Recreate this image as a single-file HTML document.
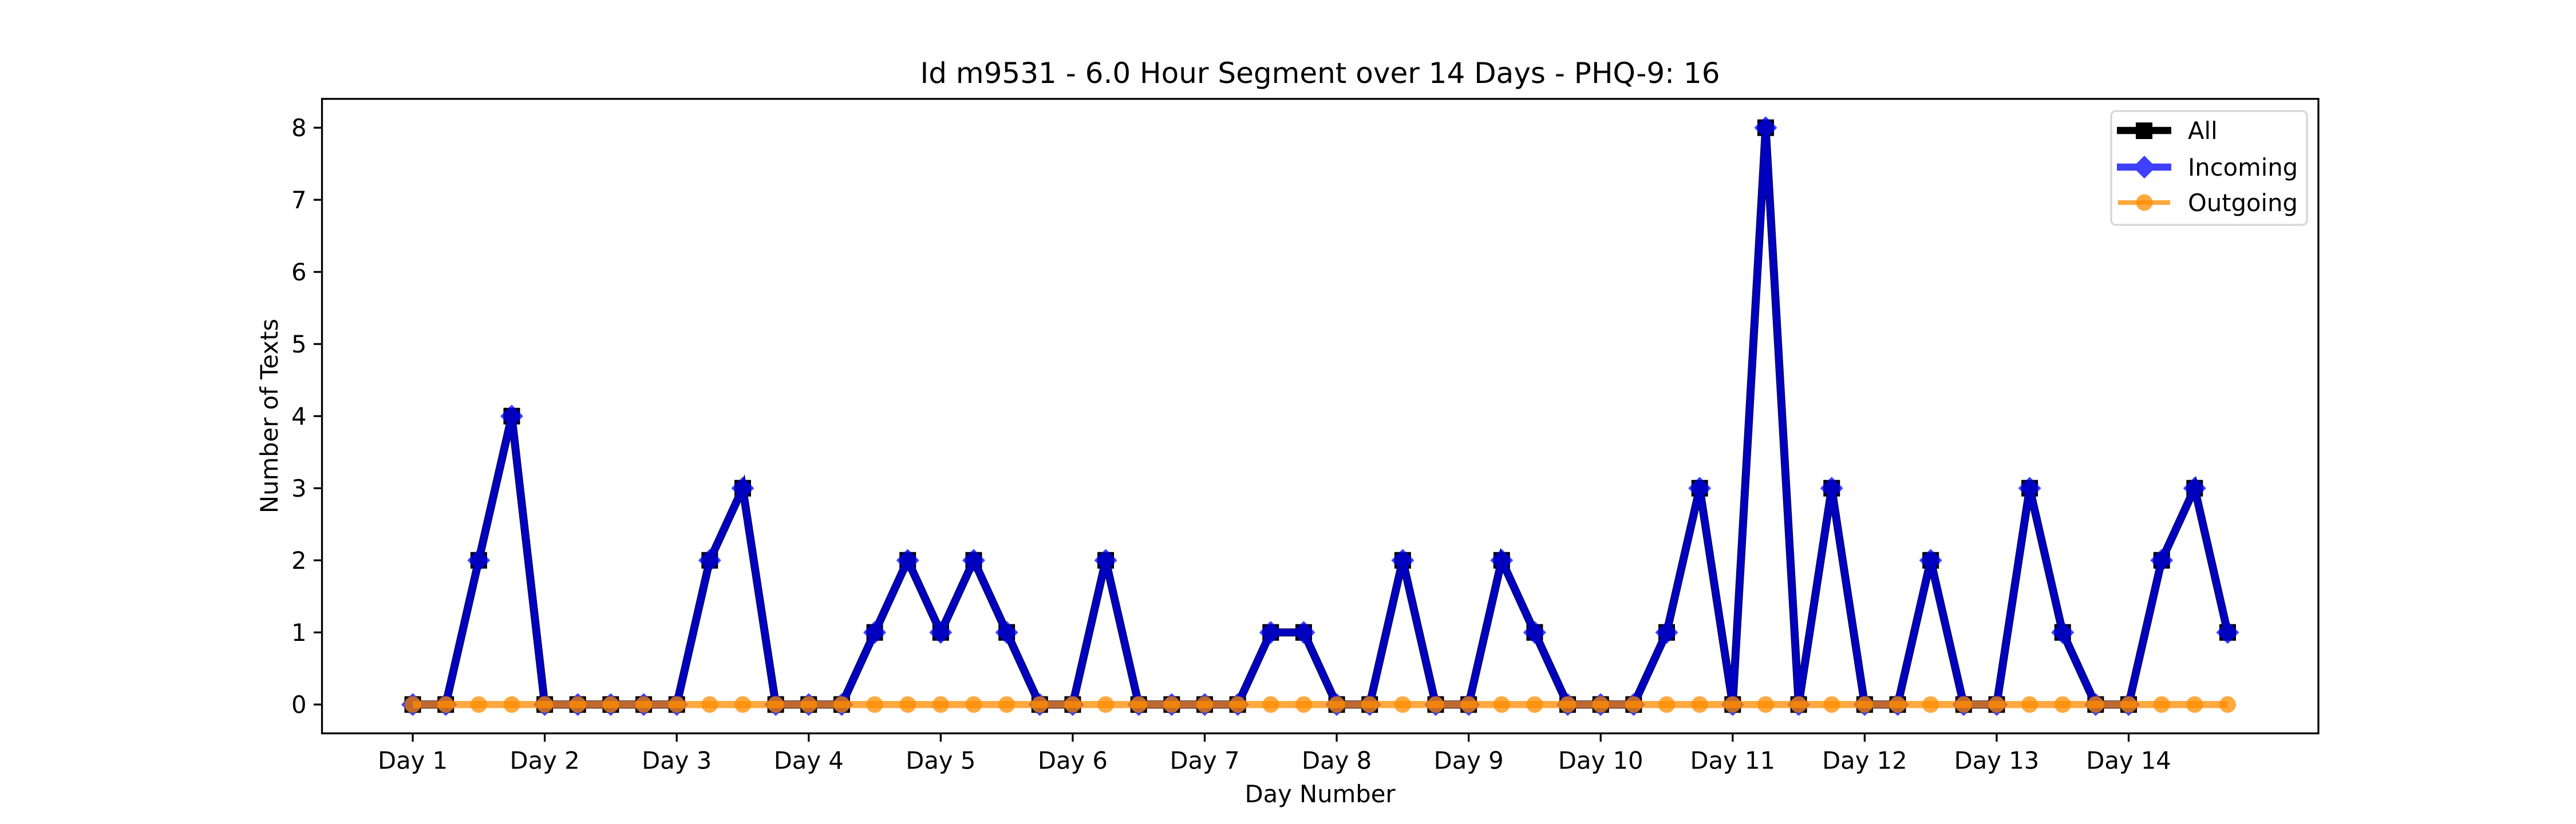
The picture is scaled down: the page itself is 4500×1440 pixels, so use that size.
<!DOCTYPE html>
<html><head><meta charset="utf-8"><style>
html,body{margin:0;padding:0;background:#fff;}
svg{display:block;font-family:"DejaVu Sans","Liberation Sans",sans-serif;}
</style></head><body>
<svg id="chart" width="4500" height="1440" viewBox="0 0 4500 1440" xmlns="http://www.w3.org/2000/svg">
<rect width="4500" height="1440" fill="#fff"/>
<text x="2306" y="145" font-size="50" text-anchor="middle">Id m9531 - 6.0 Hour Segment over 14 Days - PHQ-9: 16</text>
<text x="2306" y="1402" font-size="41.7" text-anchor="middle">Day Number</text>
<text x="0" y="0" font-size="41.7" text-anchor="middle" transform="translate(485,727) rotate(-90)">Number of Texts</text>
<g id="plot"></g>
<rect x="562.5" y="172.8" width="3487.5" height="1108.8" fill="none" stroke="#000" stroke-width="3.3"/>
<g id="legend">
<rect x="3688" y="194" width="342" height="199" rx="8" fill="#fff" fill-opacity="0.8" stroke="#d6d6d6" stroke-width="3.3"/>
<g>
<line x1="3698" y1="228" x2="3793" y2="228" stroke="#000" stroke-width="12.5"/>
<rect x="3731" y="214" width="29" height="29" fill="#000"/>
<text x="3822" y="243" font-size="41.7">All</text></g>
<g>
<g opacity="0.75">
<line x1="3698" y1="292" x2="3793" y2="292" stroke="#0000ff" stroke-width="12.5"/>
<polygon points="3746,272 3766,292 3746,312 3726,292" fill="#0000ff"/>
</g>
<text x="3822" y="307" font-size="41.7" fill="#000">Incoming</text></g>
<g>
<line x1="3700" y1="354" x2="3791" y2="354" stroke="#ff8c00" stroke-opacity="0.75" stroke-width="8.3"/>
<circle cx="3746" cy="354" r="14.5" fill="#ff8c00" fill-opacity="0.75"/>
<text x="3822" y="369" font-size="41.7">Outgoing</text></g>
</g>
</svg>
<script>
const dayLabels = ["Day 1","Day 2","Day 3","Day 4","Day 5","Day 6","Day 7","Day 8","Day 9","Day 10","Day 11","Day 12","Day 13","Day 14"];
const yTicks = [0,1,2,3,4,5,6,7,8];
const allCounts = [0,0,2,4, 0,0,0,0, 0,2,3,0, 0,0,1,2, 1,2,1,0, 0,2,0,0, 0,0,1,1, 0,0,2,0, 0,2,1,0, 0,0,1,3, 0,8,0,3, 0,0,2,0, 0,3,1,0, 0,2,3,1];
const incomingCounts = [0,0,2,4, 0,0,0,0, 0,2,3,0, 0,0,1,2, 1,2,1,0, 0,2,0,0, 0,0,1,1, 0,0,2,0, 0,2,1,0, 0,0,1,3, 0,8,0,3, 0,0,2,0, 0,3,1,0, 0,2,3,1];
const outgoingCounts = [0,0,0,0, 0,0,0,0, 0,0,0,0, 0,0,0,0, 0,0,0,0, 0,0,0,0, 0,0,0,0, 0,0,0,0, 0,0,0,0, 0,0,0,0, 0,0,0,0, 0,0,0,0, 0,0,0,0, 0,0,0,0];

const NS="http://www.w3.org/2000/svg";
const L=562.5,R=4050,T=172.8,B=1281.6;
const n=allCounts.length;
const xmin=-0.05*(n-1), xmax=(n-1)*1.05;
const maxV=Math.max(...allCounts,...incomingCounts,...outgoingCounts,1);
const ymin=-0.05*maxV, ymax=maxV*1.05;
const xs=i=>L+(i-xmin)/(xmax-xmin)*(R-L);
const ys=v=>B-(v-ymin)/(ymax-ymin)*(B-T);
const plot=document.getElementById('plot');
function mk(tag,attrs,parent){const e=document.createElementNS(NS,tag);for(const k in attrs)e.setAttribute(k,attrs[k]);(parent||plot).appendChild(e);return e;}

dayLabels.forEach((lab,d)=>{
  const x=xs(d*4);
  const t=mk('line',{x1:x,y1:B,x2:x,y2:B+14.6,stroke:'#000','stroke-width':3.3});
  
  
  const tx=mk('text',{x:x,y:B+62,'font-size':41.7,'text-anchor':'middle'});
  tx.textContent=lab;
  
  
});
yTicks.forEach(v=>{
  const y=ys(v);
  const t=mk('line',{x1:L,y1:y,x2:L-14.6,y2:y,stroke:'#000','stroke-width':3.3});
  
  
  const tx=mk('text',{x:L-27,y:y+15,'font-size':41.7,'text-anchor':'end'});
  tx.textContent=v;
  
  
});
function pts(arr){return arr.map((v,i)=>xs(i)+','+ys(v)).join(' ');}

const gA=mk('g',{});


mk('polyline',{points:pts(allCounts),fill:'none',stroke:'#000','stroke-width':14,'stroke-linejoin':'miter','stroke-miterlimit':4},gA);
allCounts.forEach((v,i)=>{
  const m=mk('rect',{x:xs(i)-14.5,y:ys(v)-14.5,width:29,height:29,fill:'#000'},gA);
  
  
});
const gI=mk('g',{opacity:0.75});


mk('polyline',{points:pts(incomingCounts),fill:'none',stroke:'#0000ff','stroke-width':12.5,'stroke-linejoin':'miter','stroke-miterlimit':4},gI);
incomingCounts.forEach((v,i)=>{
  const x=xs(i),y=ys(v);
  const m=mk('polygon',{points:`${x},${y-20} ${x+20},${y} ${x},${y+20} ${x-20},${y}`,fill:'#0000ff'},gI);
  
  
});
const gO=mk('g',{});


mk('polyline',{points:pts(outgoingCounts),fill:'none',stroke:'#ff8c00','stroke-opacity':0.75,'stroke-width':12.5},gO);
outgoingCounts.forEach((v,i)=>{
  const m=mk('circle',{cx:xs(i),cy:ys(v),r:14.5,fill:'#ff8c00','fill-opacity':0.75},gO);
  
  
});
</script>
</body></html>
